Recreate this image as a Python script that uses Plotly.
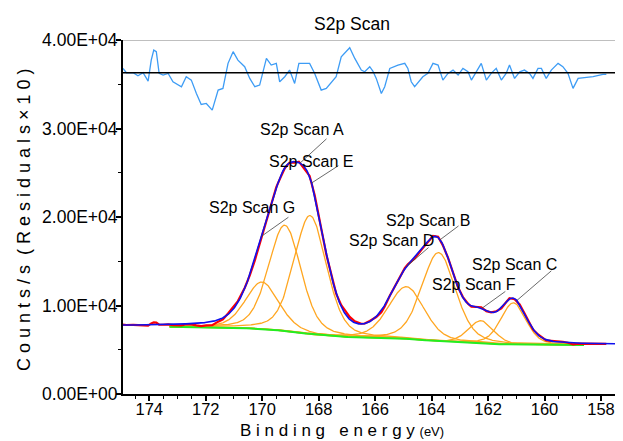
import numpy as np
import plotly.graph_objects as go

# ---------------- data ----------------
# fitted S2p components (orange): centre (eV), height above background (counts/s), FWHM (eV)
comp_center = [170.0, 169.2, 168.3, 164.9, 163.75, 162.25, 161.1]
comp_height = [5290, 11950, 13400, 5890, 10050, 2550, 4760]
comp_fwhm = [1.4, 1.35, 1.35, 1.5, 1.4, 1.05, 1.05]
lor_frac = 0.3  # GL(30) line shape

# background (green) anchor points
bg_energy = [157.2, 158.6, 161.1, 162.2, 163.7, 164.6, 166.1, 166.8, 168.1, 168.9, 170.2, 173.3, 175.0]
bg_counts = [5540, 5540, 5540, 5730, 5910, 6210, 6330, 6400, 6670, 7040, 7420, 7600, 7650]
region = [158.6, 173.3]

# residuals (x10)
res_energy = [174.93, 174.81, 174.57, 174.40, 174.22, 174.04, 173.93, 173.84, 173.75, 173.65,
              173.51, 173.33, 173.16, 172.86, 172.69, 172.51, 172.33, 172.16, 171.98, 171.77,
              171.56, 171.39, 171.21, 171.03, 170.86, 170.62, 170.44, 170.26, 170.09, 169.85,
              169.68, 169.50, 169.38, 169.20, 169.03, 168.85, 168.70, 168.32, 168.14, 167.91,
              167.73, 167.38, 167.20, 166.90, 166.72, 166.49, 166.37, 166.19, 166.08,
              165.96, 165.78, 165.66, 165.48, 165.19, 164.95, 164.84, 164.72, 164.60, 164.31,
              164.13, 163.95, 163.77, 163.60, 163.42, 163.24, 163.06, 162.89, 162.71, 162.59,
              162.42, 162.24, 162.06, 161.89, 161.71, 161.53, 161.36, 161.24, 161.06, 160.88,
              160.71, 160.53, 160.41, 160.23, 160.11, 159.94, 159.76, 159.52, 159.35, 159.17,
              158.99, 158.81, 158.28, 157.93, 157.81]
res_value = [490, 0, 0, -340, 0, -940, 1430, 2560, 2380, -75,
             -260, -75, -1020, -1580, -450, -830, -2340, -3580, -3470, -4220,
             -1960, -1770, 1060, 2380, 1430, 680, -640, -1580, -1390, 1620,
             870, 1060, -1020, -450, 300, -1210, 1060, 1060, -75, -1960,
             -1770, -450, 1810, 2830, 1620, 300, 110, 680, 190,
             -640, -2340, -1580, 490, 870, 1060, 490, -1020, -1580, -450,
             -75, 1060, 870, -830, -75, 300, -260, 490, 110, -830,
             110, 1060, -830, -75, 490, -830, -75, 870, -640, 110,
             300, -75, -640, 490, 490, -640, 300, 1060, 680, -75,
             -1770, -640, -450, -190, -190]
res_offset = 36300

peak_labels = ["S2p Scan A", "S2p Scan B", "S2p Scan C", "S2p Scan D",
               "S2p Scan E", "S2p Scan F", "S2p Scan G"]
label_energy = [168.66, 163.70, 160.98, 164.88, 168.25, 162.22, 170.02]
# text offsets (px) and leader-tail offsets (px) relative to the labelled point
label_dx = [1.5, -12, -2, -15.7, -0.2, -8, -9.7]
label_dy = [33.7, 19, 36, 26, 21.3, 24, 29]
leader_ax = [28, 20, 36, 23.3, 28.3, 25, 28.3]
leader_ay = [-25.7, -15, -31, -20, -18.3, -18, -20]

y_tickvals = [0, 10000, 20000, 30000, 40000]
y_ticktext = ["0.00E+00", "1.00E+04", "2.00E+04", "3.00E+04", "4.00E+04"]
x_range = [174.93, 157.22]

# ---------------- build curves ----------------
E = np.arange(157.2, 174.95, 0.02)


def shape(x, c, h, w):
    g = np.exp(-4 * np.log(2) * ((x - c) / w) ** 2)
    l = 1.0 / (1 + 4 * ((x - c) / w) ** 2)
    return h * ((1 - lor_frac) * g + lor_frac * l)


def background(x):
    return np.interp(x, bg_energy, bg_counts)


def envelope(x):
    x = np.asarray(x, dtype=float)
    tot = background(x)
    for c, h, w in zip(comp_center, comp_height, comp_fwhm):
        tot = tot + shape(x, c, h, w)
    return tot


mask = (E >= region[0]) & (E <= region[1])
Er = E[mask]

FONT = "Liberation Sans, Arial, sans-serif"
NB = "\u00a0"
fig = go.Figure()

for c, h, w in zip(comp_center, comp_height, comp_fwhm):
    fig.add_trace(go.Scatter(x=Er, y=background(Er) + shape(Er, c, h, w), mode="lines",
                             line=dict(color="#ffa620", width=1.3), hoverinfo="skip"))
fig.add_trace(go.Scatter(x=Er, y=background(Er), mode="lines",
                         line=dict(color="#22ee22", width=2), hoverinfo="skip"))

res_E = np.array(res_energy)
res_v = np.array(res_value)
fig.add_trace(go.Scatter(x=res_E, y=envelope(res_E) + res_v / 10.0, mode="lines",
                         line=dict(color="#ff0000", width=2.2), hoverinfo="skip"))
fig.add_trace(go.Scatter(x=E, y=envelope(E), mode="lines",
                         line=dict(color="#1010ee", width=1.6), hoverinfo="skip"))
fig.add_trace(go.Scatter(x=res_E, y=res_offset + res_v, mode="lines",
                         line=dict(color="#3d9cf5", width=1.3), hoverinfo="skip"))

# residual zero line and top frame
fig.add_shape(type="line", xref="paper", yref="y", x0=0, x1=1, y0=res_offset, y1=res_offset,
              line=dict(color="black", width=1.6))
fig.add_shape(type="line", xref="paper", yref="y", x0=0, x1=1, y0=40000, y1=40000,
              line=dict(color="#aaaaaa", width=1.5))

annotations = []
for name, e, dx, dy, ax, ay in zip(peak_labels, label_energy, label_dx, label_dy, leader_ax, leader_ay):
    yv = float(envelope(e))
    annotations.append(dict(x=e, y=yv, xref="x", yref="y", text="", showarrow=True,
                            ax=ax, ay=ay, arrowhead=0, arrowwidth=0.8, arrowcolor="#444444",
                            standoff=0, startstandoff=0))
    annotations.append(dict(x=e, y=yv, xref="x", yref="y", text=name, showarrow=False,
                            xanchor="center", yanchor="middle",
                            xshift=dx, yshift=dy, font=dict(family=FONT, size=16, color="black")))

xtitle = NB.join("Binding") + NB * 3 + NB.join("energy") + NB + "<span style='font-size:13px'>(eV)</span>"
ytitle = NB.join("Counts/s") + NB * 2 + NB.join("(Residuals×10)")

annotations.append(dict(x=0.458, y=1.044, xref="paper", yref="paper", text="S2p Scan",
                        xanchor="center", yanchor="middle",
                        showarrow=False, font=dict(family=FONT, size=17.5, color="black")))
annotations.append(dict(x=0.438, y=-0.1017, xref="paper", yref="paper", text=xtitle,
                        xanchor="center", yanchor="middle",
                        showarrow=False, font=dict(family=FONT, size=17, color="black")))
annotations.append(dict(x=-0.198, y=0.4915, xref="paper", yref="paper", textangle=-90,
                        xanchor="center", yanchor="middle", text=ytitle,
                        showarrow=False, font=dict(family=FONT, size=18, color="black")))

# the page body has an 8px margin: shift the figure margins so the plot area lands
# at the reference pixel position (plot area 123..623 x 40..394 in the window)
fig.update_layout(
    width=623, height=441,
    margin=dict(l=115, r=8, t=32, b=55),
    paper_bgcolor="white", plot_bgcolor="white",
    showlegend=False,
    annotations=annotations,
    xaxis=dict(range=x_range, tickmode="linear", tick0=158, dtick=2,
               ticks="outside", ticklen=5, tickwidth=1.5, tickcolor="black",
               minor=dict(tickmode="linear", tick0=0, dtick=0.5, ticks="outside",
                          ticklen=3, tickwidth=1.2, tickcolor="black"),
               ticklabelstandoff=-6,
               showline=True, linecolor="black", linewidth=2,
               showgrid=False, zeroline=False,
               tickfont=dict(family=FONT, size=16.5, color="black")),
    yaxis=dict(range=[0, 40000], tickmode="array", tickvals=y_tickvals, ticktext=y_ticktext,
               ticks="outside", ticklen=5, tickwidth=1.5, tickcolor="black",
               minor=dict(tickmode="linear", tick0=0, dtick=5000, ticks="outside",
                          ticklen=3, tickwidth=1.2, tickcolor="black"),
               ticklabelstandoff=-5,
               showline=True, linecolor="black", linewidth=2,
               showgrid=False, zeroline=False,
               tickfont=dict(family=FONT, size=17.5, color="black")),
)

fig.write_html("out.html")
